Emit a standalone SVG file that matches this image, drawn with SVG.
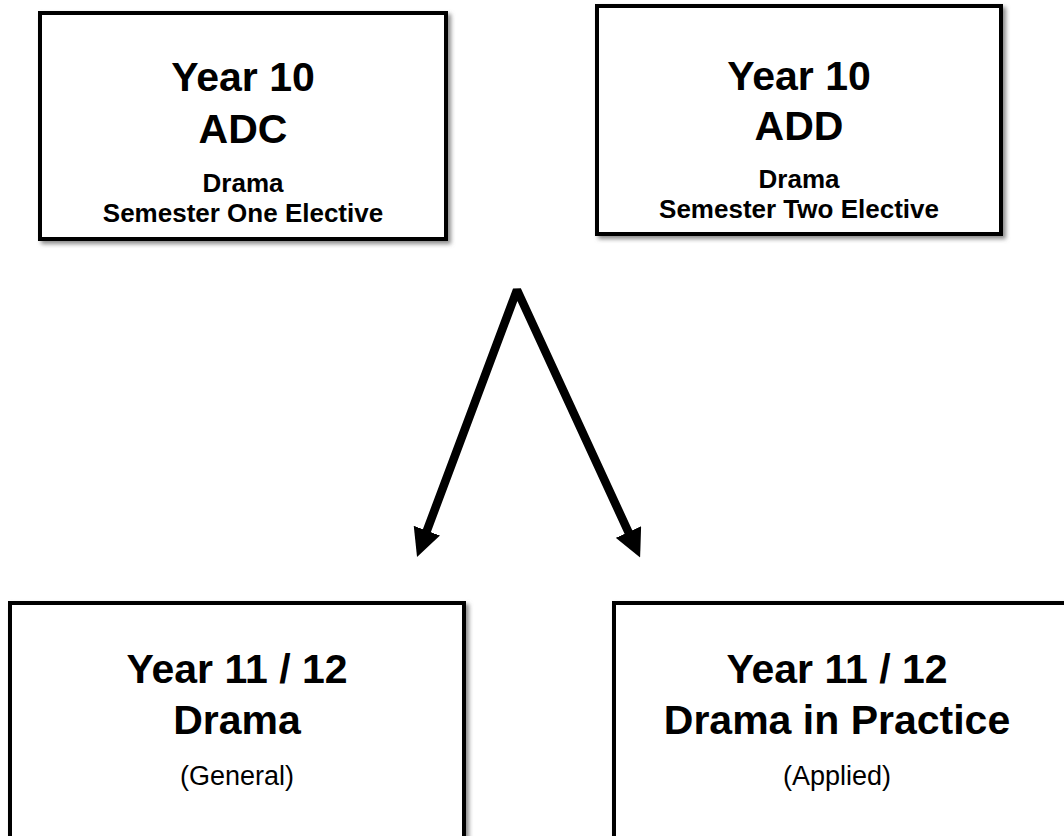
<svg xmlns="http://www.w3.org/2000/svg" width="1064" height="836" viewBox="0 0 1064 836">
  <style>
    .box { fill: #ffffff; stroke: #000000; stroke-width: 4; filter: url(#shadow); }
    .title { font-family: "Liberation Sans", Arial, sans-serif; font-weight: bold; font-size: 41px; fill: #000; text-anchor: middle; }
    .sub { font-family: "Liberation Sans", Arial, sans-serif; font-weight: bold; font-size: 26px; fill: #000; text-anchor: middle; }
    .note { font-family: "Liberation Sans", Arial, sans-serif; font-size: 27px; fill: #000; text-anchor: middle; }
    .conn { fill: none; stroke: #000; stroke-width: 8.5; stroke-linejoin: bevel; }
  </style>
  <defs>
    <filter id="shadow" x="-5%" y="-5%" width="115%" height="115%">
      <feDropShadow dx="3" dy="3" stdDeviation="2" flood-color="#7f7f7f" flood-opacity="0.9"/>
    </filter>
    <marker id="arrow" markerUnits="userSpaceOnUse" markerWidth="28" markerHeight="28" viewBox="0 0 28 28" refX="11" refY="14" orient="auto-start-reverse">
      <path d="M0,0 L28,14 L0,28 z" fill="#000"/>
    </marker>
  </defs>

  <rect width="1064" height="836" fill="#ffffff"/>

  <g id="node-y10-adc">
    <rect class="box" x="40" y="13" width="406" height="226"/>
    <text class="title" x="243" y="91">Year 10</text>
    <text class="title" x="243" y="143">ADC</text>
    <text class="sub" x="243" y="192">Drama</text>
    <text class="sub" x="243" y="222">Semester One Elective</text>
  </g>

  <g id="node-y10-add">
    <rect class="box" x="597" y="6" width="404" height="228"/>
    <text class="title" x="799" y="90">Year 10</text>
    <text class="title" x="799" y="140">ADD</text>
    <text class="sub" x="799" y="188">Drama</text>
    <text class="sub" x="799" y="218">Semester Two Elective</text>
  </g>

  <g id="node-y1112-drama">
    <rect class="box" x="10" y="603" width="454" height="300"/>
    <text class="title" x="237" y="683">Year 11 / 12</text>
    <text class="title" x="237" y="734">Drama</text>
    <text class="note" x="237" y="785">(General)</text>
  </g>

  <g id="node-y1112-dip">
    <rect class="box" x="614" y="603" width="500" height="300"/>
    <text class="title" x="837" y="683">Year 11 / 12</text>
    <text class="title" x="837" y="734">Drama in Practice</text>
    <text class="note" x="837" y="785">(Applied)</text>
  </g>

  <g id="connectors">
    <polyline class="conn" points="423,541 517,290 633,542" marker-start="url(#arrow)" marker-end="url(#arrow)"/>
  </g>
</svg>
